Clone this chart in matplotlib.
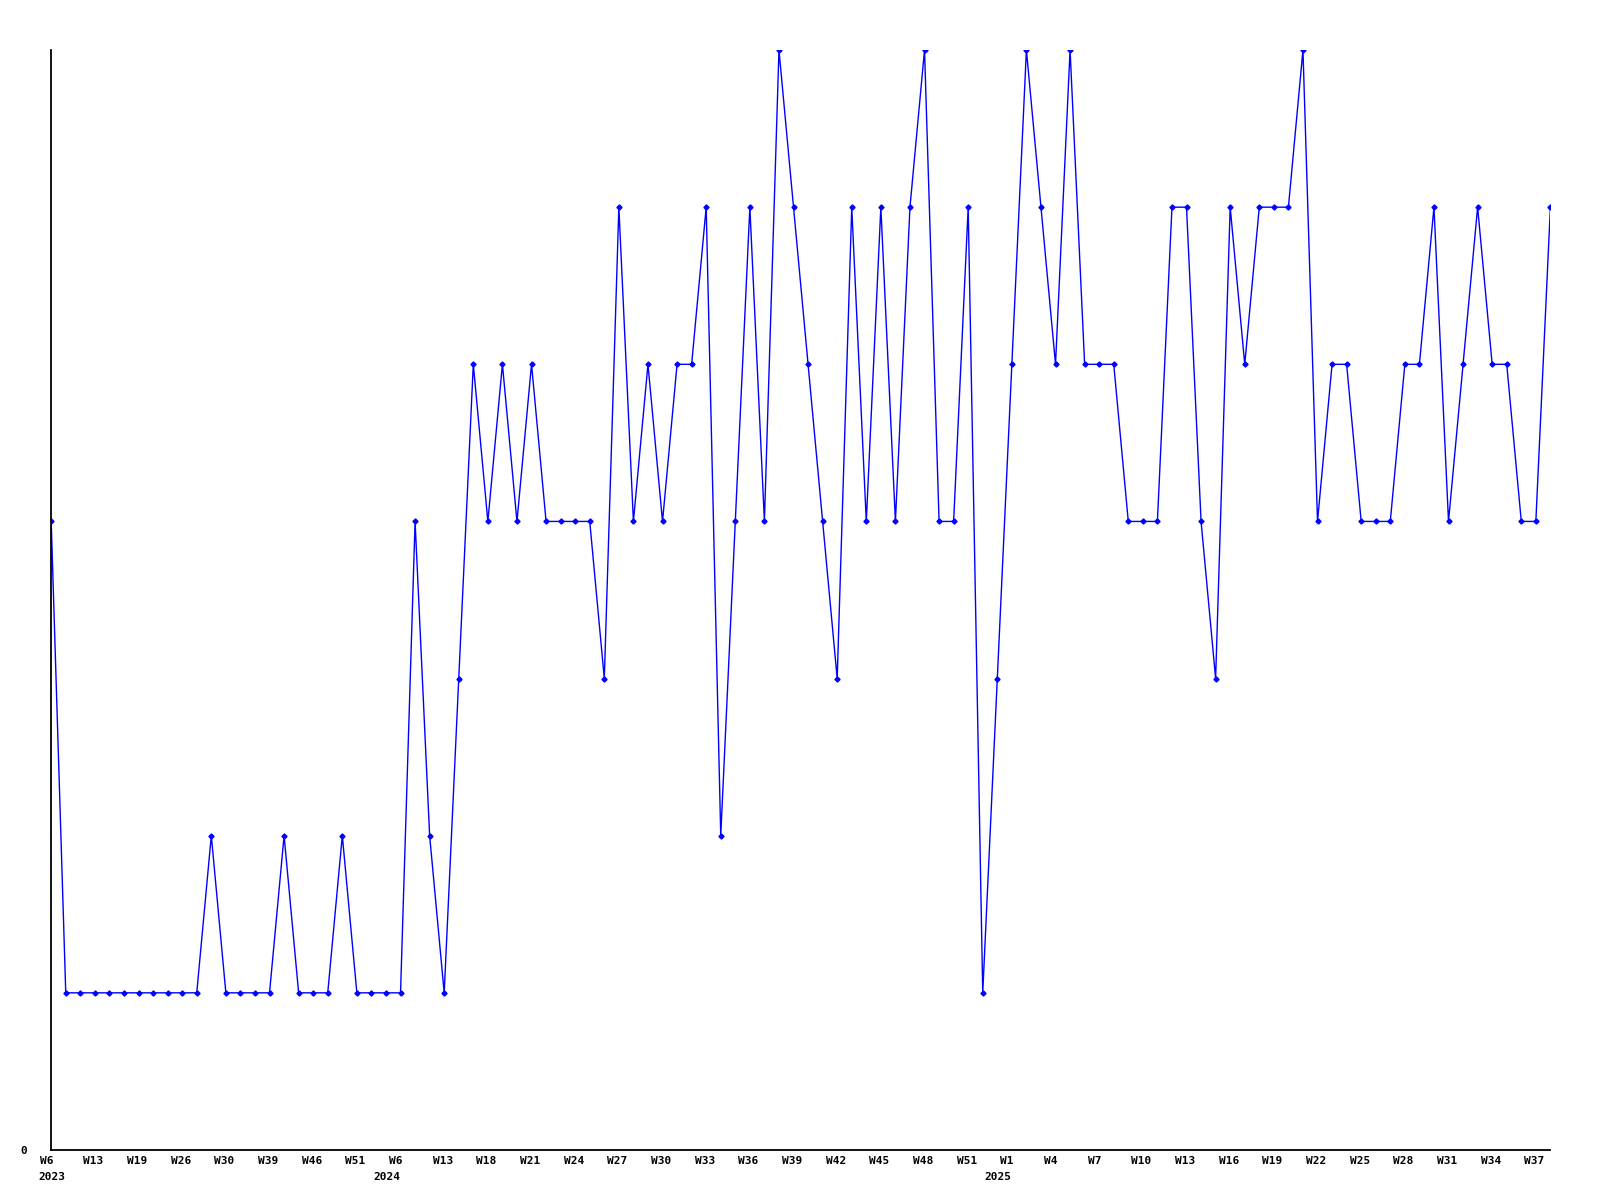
import matplotlib
matplotlib.use("Agg")
import matplotlib.pyplot as plt
from matplotlib.transforms import ScaledTranslation

# weekly values, one per week in the series (W6 2023 .. W38 2025)
values = [4, 1, 1, 1, 1, 1, 1, 1, 1, 1,
          1, 2, 1, 1, 1, 1, 2, 1, 1, 1,
          2, 1, 1, 1, 1, 4, 2, 1, 3, 5,
          4, 5, 4, 5, 4, 4, 4, 4, 3, 6,
          4, 5, 4, 5, 5, 6, 2, 4, 6, 4,
          7, 6, 5, 4, 3, 6, 4, 6, 4, 6,
          7, 4, 4, 6, 1, 3, 5, 7, 6, 5,
          7, 5, 5, 5, 4, 4, 4, 6, 6, 4,
          3, 6, 5, 6, 6, 6, 7, 4, 5, 5,
          4, 4, 4, 5, 5, 6, 4, 5, 6, 5,
          5, 4, 4, 6]

# every third week gets a label
tick_labels = ["W6", "W13", "W19", "W26", "W30", "W39", "W46", "W51",
               "W6", "W13", "W18", "W21", "W24", "W27", "W30", "W33",
               "W36", "W39", "W42", "W45", "W48", "W51", "W1", "W4",
               "W7", "W10", "W13", "W16", "W19", "W22", "W25", "W28",
               "W31", "W34", "W37"]
years = ["2023", "2024", "2025"]
year_idx = [0, 24, 66]

x = list(range(len(values)))
tick_pos = x[::3][:len(tick_labels)]

fig = plt.figure(figsize=(16, 12), dpi=100)
ax = fig.add_axes([0.032, 0.0417, 0.937, 0.9166])

ax.plot(x, values, color="#0000ff", lw=1.0, marker="D", ms=2.6)

ax.set_xlim(0, len(values) - 1)
ax.set_ylim(0, 7)

ax.spines["top"].set_visible(False)
ax.spines["right"].set_visible(False)
ax.spines["left"].set_linewidth(1.3)
ax.spines["bottom"].set_linewidth(1.3)

font = dict(family="DejaVu Sans Mono", weight="bold", size=8)

ax.set_yticks([0])
ax.set_yticklabels(["0"], **font)
ax.tick_params(axis="y", length=0, pad=17)

ax.set_xticks(tick_pos)
ax.set_xticklabels(tick_labels, **font)
ax.tick_params(axis="x", length=0, pad=4)
shift = ScaledTranslation(-0.115, 0, fig.dpi_scale_trans)
for lab in ax.get_xticklabels():
    lab.set_horizontalalignment("left")
    lab.set_transform(lab.get_transform() + shift)

for yr, i in zip(years, year_idx):
    if i == 0:
        ax.annotate(yr, xy=(i, 0), xycoords=("data", "axes fraction"),
                    xytext=(-9, -19.5), textcoords="offset points",
                    ha="left", va="center", **font)
    else:
        ax.annotate(yr, xy=(i, 0), xycoords=("data", "axes fraction"),
                    xytext=(0, -19.5), textcoords="offset points",
                    ha="right", va="center", **font)

fig.savefig("out.png", dpi=100)
